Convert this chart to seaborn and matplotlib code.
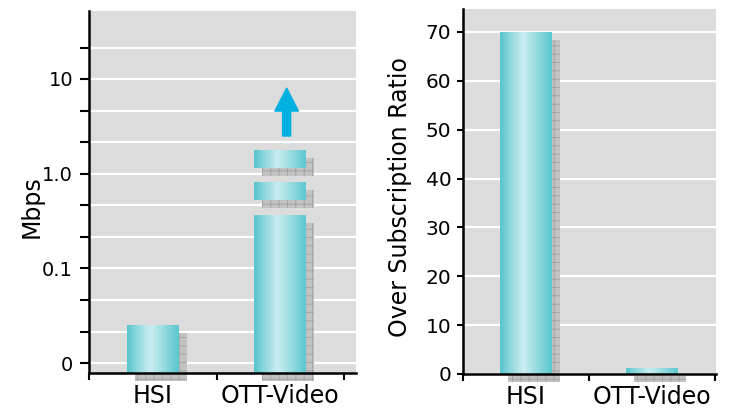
"""
Mbps y over subscription por servicio
"""

#importacion de librerias
import numpy as np
import seaborn as sns #barras
import matplotlib.pyplot as plt #graficas
from matplotlib.colors import LinearSegmentedColormap
from matplotlib.patches import Rectangle
from matplotlib.transforms import ScaledTranslation
from matplotlib.ticker import FixedLocator, NullFormatter

#datos
categorias = ['HSI', 'OTT-Video']
mbps = [0.025, 0.37]
ott_tramos = [(0.53, 0.82), (1.16, 1.79)] #tramos sueltos de la barra OTT
flecha = (2.5, 8.0) #flecha hacia arriba
ratio = [70, 1.2]

ticks_mbps = [0.01, 0.1, 1, 10]
etiquetas_mbps = ['0', '0.1', '1.0', '10']
ticks_menores = [0.0215, 0.0464, 0.215, 0.464, 2.15, 4.64, 21.5]
ticks_ratio = [0, 10, 20, 30, 40, 50, 60, 70]

#estilo
sns.set_theme(style='darkgrid', rc={'axes.facecolor': '#dcdcdc',
                                    'grid.color': 'white',
                                    'grid.linewidth': 1.6,
                                    'hatch.linewidth': 0.6})
plt.rcParams['font.family'] = ['DejaVu Sans']

fig = plt.figure(figsize=(7.3, 4.09), dpi=100)
fig.patch.set_facecolor('white')
ax1 = fig.add_axes([0.1219, 0.088, 0.3658, 0.885])
ax2 = fig.add_axes([0.634, 0.0856, 0.347, 0.8924])

#degradado tipo cilindro
cmap = LinearSegmentedColormap.from_list('cil', [(0, '#55c4cc'), (0.2, '#8ed8dd'),
                                                 (0.45, '#c9edf0'), (0.75, '#8fd8dd'),
                                                 (1, '#5ac6ce')])
desplazamiento = ScaledTranslation(8 / 100, -8 / 100, fig.dpi_scale_trans)


def cilindro(ax, x, ancho, abajo, arriba):
    #sombra cuadriculada
    ax.add_patch(Rectangle((x - ancho / 2, abajo), ancho, arriba - abajo,
                           transform=ax.transData + desplazamiento,
                           facecolor='#c2c2c2', edgecolor='#a2a2a2', hatch='++',
                           lw=0, zorder=2, clip_on=False))
    n = 40
    bordes = np.linspace(x - ancho / 2, x + ancho / 2, n + 1)
    paso = bordes[1] - bordes[0]
    for i in range(n):
        w = paso * (1.6 if i < n - 1 else 1.0)
        ax.add_patch(Rectangle((bordes[i], abajo), w, arriba - abajo,
                               facecolor=cmap((i + 0.5) / n), lw=0, zorder=3))


def barras(ax, valores, abajo_min):
    sns.barplot(x=categorias, y=valores, ax=ax, width=0.41, color='#5fc9d0',
                errorbar=None)
    for p in list(ax.patches):
        p.set_visible(False)
        x = p.get_x() + p.get_width() / 2
        cilindro(ax, x, p.get_width(), max(p.get_y(), abajo_min), p.get_y() + p.get_height())


def ejes(ax):
    for lado in ['top', 'right']:
        ax.spines[lado].set_visible(False)
    for lado in ['left', 'bottom']:
        ax.spines[lado].set_visible(True)
        ax.spines[lado].set_color('black')
        ax.spines[lado].set_linewidth(1.8)
        ax.spines[lado].set_zorder(5)
    ax.xaxis.grid(False)
    ax.set_xticks([0, 1])
    ax.set_xticklabels(categorias, fontsize=17)
    ax.xaxis.set_minor_locator(FixedLocator([-0.5, 0.5, 1.5]))
    ax.tick_params(axis='x', which='major', length=0, pad=8, colors='black')
    ax.tick_params(axis='x', which='minor', bottom=True, length=5, width=1.5,
                   color='black', direction='out')
    ax.set_xlabel('')


#panel izquierdo (Mbps, escala log)
ymin1, ymax1 = 0.00784, 52.2
barras(ax1, mbps, ymin1)
ax1.set_yscale('log')
ax1.set_ylim(ymin1, ymax1)
for abajo, arriba in ott_tramos:
    cilindro(ax1, 1, 0.41, abajo, arriba)
ax1.annotate('', xy=(1.05, flecha[1]), xytext=(1.05, flecha[0]),
             arrowprops=dict(width=5.8, headwidth=17, headlength=16.5,
                             color='#00b0e0', shrink=0), zorder=4)
ax1.yaxis.set_major_locator(FixedLocator(ticks_mbps))
ax1.yaxis.set_minor_locator(FixedLocator(ticks_menores))
ax1.yaxis.set_minor_formatter(NullFormatter())
ax1.set_yticklabels(etiquetas_mbps, fontsize=14)
ax1.yaxis.grid(True, which='both')
ax1.tick_params(axis='y', which='both', left=True, length=6.5, width=1.5,
                color='black', direction='out', pad=5, labelcolor='black')
ax1.set_xlim(-0.5, 1.594)
ejes(ax1)
ax1.set_ylabel('Mbps', fontsize=17, color='black')
ax1.yaxis.set_label_coords(-0.17, 0.459)

#panel derecho (over subscription)
barras(ax2, ratio, 0)
ax2.set_ylim(0, 74.7)
ax2.set_yticks(ticks_ratio)
ax2.set_yticklabels([str(t) for t in ticks_ratio], fontsize=14.5)
ax2.tick_params(axis='y', which='major', left=True, length=4.3, width=1.5,
                color='black', direction='out', pad=4, labelcolor='black')
ax2.set_xlim(-0.5, 1.51)
ejes(ax2)
ax2.set_ylabel('Over Subscription Ratio', fontsize=17, color='black')
ax2.yaxis.set_label_coords(-0.2, 0.4836)

fig.savefig('out.png', dpi=100)
